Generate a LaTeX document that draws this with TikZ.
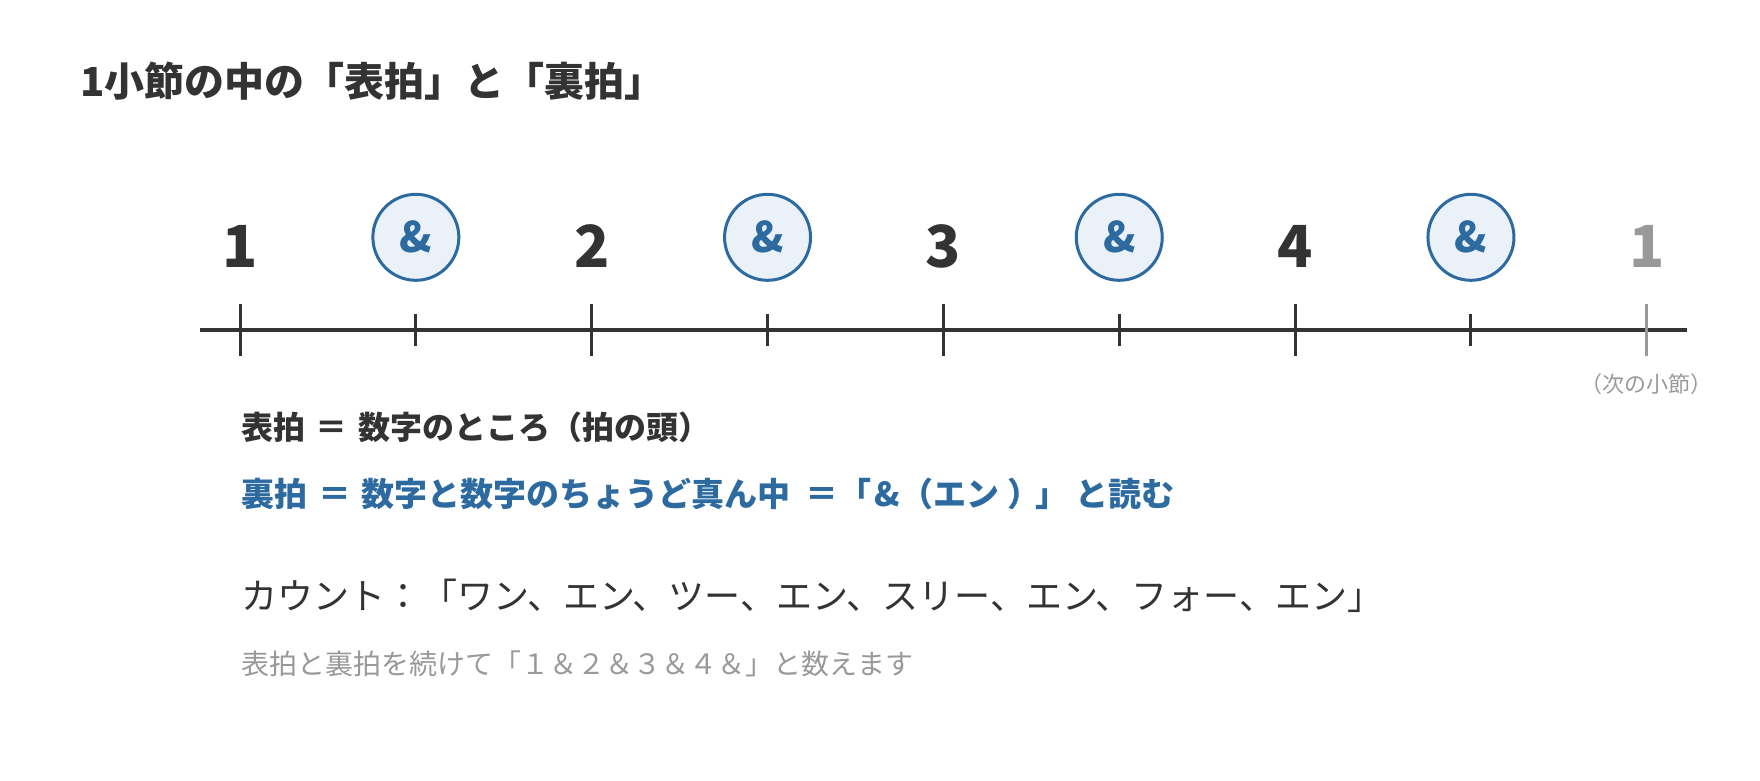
\documentclass[tikz,border=0pt]{standalone}
\usepackage{fontspec}
\setmainfont{Noto Sans CJK JP}
\definecolor{ink}{HTML}{333333}
\definecolor{beatblue}{HTML}{2C6AA0}
\definecolor{beatfill}{HTML}{EAF1F8}
\definecolor{muted}{HTML}{999999}
\newcommand{\eqsign}{\hspace{0.33em}＝\hspace{0.33em}}
\begin{document}
\begin{tikzpicture}[x=1pt,y=-1pt,node distance=351.7pt,
    num/.style={font=\fontsize{58}{60}\selectfont\bfseries,text=ink,inner sep=0pt},
    amp/.style={circle,draw=beatblue,fill=beatfill,line width=3pt,minimum size=86pt,inner sep=0pt,
                text=beatblue,font=\fontsize{42}{44}\selectfont\bfseries},
    axis/.style={draw=ink,line width=3.3pt},
    tick/.style={draw=ink,line width=3pt},
    line/.style={anchor=west,inner sep=0pt}]
    \useasboundingbox (0,0) rectangle (1760,780);
    \node[line,font=\fontsize{40}{44}\selectfont\bfseries,text=ink] at (80,81) (title) {1小節の中の「表拍」と「裏拍」};
    % beats
    \node[num] at (240,246) (n1) {1};
    \node[num,right of=n1] (n2) {2};
    \node[num,right of=n2] (n3) {3};
    \node[num,right of=n3] (n4) {4};
    \node[num,right of=n4,text=muted] (n5) {1};
    % and-beats
    \node[amp,right of=n1,xshift=-175.85pt,yshift=8.7pt] (a1) {\&};
    \node[amp,right of=a1] (a2) {\&};
    \node[amp,right of=a2] (a3) {\&};
    \node[amp,right of=a3] (a4) {\&};
    % timeline
    \coordinate (L) at (200,330);
    \coordinate (R) at (1687,330);
    \draw[axis] (L) -- (R);
    \draw[tick] (n1 |- L) +(0,-26) -- +(0,26);
    \draw[tick] (n2 |- L) +(0,-26) -- +(0,26);
    \draw[tick] (n3 |- L) +(0,-26) -- +(0,26);
    \draw[tick] (n4 |- L) +(0,-26) -- +(0,26);
    \draw[tick,draw=muted] (n5 |- L) +(0,-26) -- +(0,26);
    \draw[tick] (a1 |- L) +(0,-16) -- +(0,16);
    \draw[tick] (a2 |- L) +(0,-16) -- +(0,16);
    \draw[tick] (a3 |- L) +(0,-16) -- +(0,16);
    \draw[tick] (a4 |- L) +(0,-16) -- +(0,16);
    \node[font=\fontsize{22}{24}\selectfont,text=muted,below of=n5,node distance=138pt] (next) {（次の小節）};
    % explanation
    \node[line,font=\fontsize{32}{36}\selectfont\bfseries,text=ink] at (241,427) (front) {表拍\eqsign 数字のところ（拍の頭）};
    \node[line,font=\fontsize{33}{36}\selectfont\bfseries,text=beatblue] at (241,494) (back) {裏拍\eqsign 数字と数字のちょうど真ん中\hspace{0.44em}＝「\hspace{0.1em}\&（エン\hspace{0.25em}）\hspace{-0.15em}」\hspace{0.2em}と読む};
    \node[line,font=\fontsize{36}{40}\selectfont,text=ink] at (241,596) (count) {カウント：「ワン、エン、ツー、エン、スリー、エン、フォー、エン」};
    \node[line,font=\fontsize{28}{32}\selectfont,text=muted] at (241,664) (note) {表拍と裏拍を続けて「１＆２＆３＆４＆」と数えます};
\end{tikzpicture}
\end{document}
